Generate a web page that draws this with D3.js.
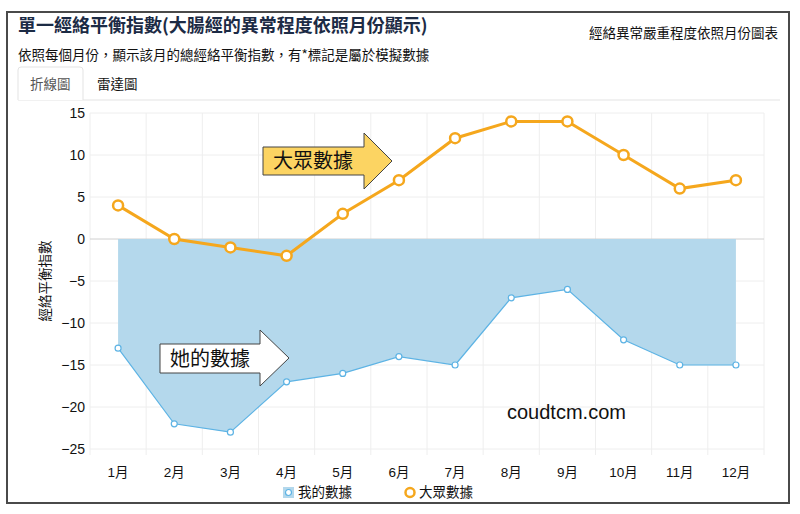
<!DOCTYPE html>
<html lang="zh-Hant">
<head>
<meta charset="UTF-8" />
<title>單一經絡平衡指數</title>
<script src="https://d3js.org/d3.v7.min.js"></script>
<style>
  body { margin: 0; background: #fff; }
  svg { display: block; }
  text { font-family: "Noto Sans CJK TC", "Noto Sans", sans-serif; }
  .num { font-family: "Liberation Sans", Arial, "Noto Sans CJK TC", sans-serif; }
</style>
</head>
<body>
<svg id="svg" width="800" height="514"></svg>
<script>
  // data
  const months = ["1月", "2月", "3月", "4月", "5月", "6月", "7月", "8月", "9月", "10月", "11月", "12月"];
  const myData = [-13, -22, -23, -17, -16, -14, -15, -7, -6, -12, -15, -15];
  const publicData = [4, 0, -1, -2, 3, 7, 12, 14, 14, 10, 6, 7];
  const yTicks = [15, 10, 5, 0, -5, -10, -15, -20, -25];
  const seriesNames = ["我的數據", "大眾數據"];

  const blue = "#5db3e4";
  const blueFill = "#b4d8ec";
  const orange = "#f5a71d";

  const svg = d3.select("svg");

  // outer frame
  svg.append("rect")
    .attr("x", 7).attr("y", 12).attr("width", 782).attr("height", 491)
    .attr("fill", "#fff").attr("stroke", "#4a4a4a").attr("stroke-width", 2);

  // headings
  svg.append("text")
    .attr("x", 18).attr("y", 32)
    .attr("font-size", 18).attr("font-weight", "bold").attr("fill", "#1c2b45")
    .text("單一經絡平衡指數(大腸經的異常程度依照月份顯示)");
  svg.append("text")
    .attr("x", 18).attr("y", 60)
    .attr("font-size", 13.5).attr("fill", "#111")
    .text("依照每個月份，顯示該月的總經絡平衡指數，有*標記是屬於模擬數據");
  svg.append("text")
    .attr("x", 778).attr("y", 38).attr("text-anchor", "end")
    .attr("font-size", 13.5).attr("fill", "#111")
    .text("經絡異常嚴重程度依照月份圖表");

  // tabs
  svg.append("line")
    .attr("x1", 18).attr("x2", 780).attr("y1", 100).attr("y2", 100)
    .attr("stroke", "#e3e3e3");
  svg.append("path")
    .attr("d", "M18,100 V70 Q18,67 21,67 H80 Q83,67 83,70 V100")
    .attr("fill", "#fff").attr("stroke", "#e3e3e3");
  svg.append("text")
    .attr("x", 30).attr("y", 89).attr("font-size", 13.5).attr("fill", "#555")
    .text("折線圖");
  svg.append("text")
    .attr("x", 97).attr("y", 89).attr("font-size", 13.5).attr("fill", "#111")
    .text("雷達圖");

  // scales
  const x = d3.scaleBand().domain(months).range([90, 764]).padding(0);
  const cx = (d) => x(d) + x.bandwidth() / 2;
  const y = d3.scaleLinear().domain([-25, 15]).range([449, 113]);

  const g = svg.append("g");

  // grid
  g.selectAll(".vgrid")
    .data(months.concat(["end"]))
    .enter()
    .append("line")
    .attr("x1", (d, i) => 90 + i * x.bandwidth())
    .attr("x2", (d, i) => 90 + i * x.bandwidth())
    .attr("y1", 113).attr("y2", 455)
    .attr("stroke", "#eeeeee");
  g.selectAll(".hgrid")
    .data(yTicks)
    .enter()
    .append("line")
    .attr("x1", 90).attr("x2", 764)
    .attr("y1", (d) => y(d)).attr("y2", (d) => y(d))
    .attr("stroke", (d) => (d === 0 ? "#d0d0d0" : "#eeeeee"));

  // axes
  const yAxis = g.append("g")
    .attr("transform", "translate(90,0)")
    .call(d3.axisLeft(y).tickValues(yTicks).tickSize(0).tickPadding(5));
  yAxis.select(".domain").remove();
  yAxis.selectAll("text")
    .attr("class", "num").attr("font-size", 14).attr("fill", "#111");

  const xAxis = g.append("g")
    .attr("transform", "translate(0,461)")
    .call(d3.axisBottom(x).tickSize(0).tickPadding(6));
  xAxis.select(".domain").remove();
  xAxis.selectAll("text")
    .attr("class", "num").attr("font-size", 13.5).attr("fill", "#111");

  svg.append("text")
    .attr("transform", "translate(50,281) rotate(-90)")
    .attr("text-anchor", "middle").attr("font-size", 13.5).attr("fill", "#111")
    .text("經絡平衡指數");

  // my data: filled area to zero + thin line
  const area = d3.area()
    .x((d, i) => cx(months[i]))
    .y0(y(0))
    .y1((d) => y(d));
  g.append("path")
    .datum(myData)
    .attr("d", area)
    .attr("fill", blueFill);

  const line = d3.line().x((d, i) => cx(months[i])).y((d) => y(d));
  g.append("path")
    .datum(myData)
    .attr("d", line)
    .attr("fill", "none").attr("stroke", blue).attr("stroke-width", 1.2);
  g.selectAll(".myDot")
    .data(myData)
    .enter()
    .append("circle")
    .attr("cx", (d, i) => cx(months[i]))
    .attr("cy", (d) => y(d))
    .attr("r", 3)
    .attr("fill", "#fff").attr("stroke", blue).attr("stroke-width", 1.2);

  // public data
  g.append("path")
    .datum(publicData)
    .attr("d", line)
    .attr("fill", "none").attr("stroke", orange).attr("stroke-width", 3);
  g.selectAll(".pubDot")
    .data(publicData)
    .enter()
    .append("circle")
    .attr("cx", (d, i) => cx(months[i]))
    .attr("cy", (d) => y(d))
    .attr("r", 5)
    .attr("fill", "#fff").attr("stroke", orange).attr("stroke-width", 2.5);

  // arrow callouts
  function arrow(x0, yTop, yBot, xHead, hTop, hBot, xTip, fill, label) {
    const yMid = (hTop + hBot) / 2;
    svg.append("path")
      .attr("d", `M${x0},${yTop} H${xHead} V${hTop} L${xTip},${yMid} L${xHead},${hBot} V${yBot} H${x0} Z`)
      .attr("fill", fill).attr("stroke", "#444").attr("stroke-width", 1);
    svg.append("text")
      .attr("x", x0 + 10).attr("y", (yTop + yBot) / 2 + 7)
      .attr("font-size", 20).attr("fill", "#111")
      .text(label);
  }
  arrow(263, 147, 175, 364, 133, 189, 392, "#fcd462", "大眾數據");
  arrow(160, 344, 373, 260, 330, 386, 289, "#fff", "她的數據");

  // watermark
  svg.append("text")
    .attr("class", "num")
    .attr("x", 507).attr("y", 419)
    .attr("font-size", 20).attr("fill", "#111")
    .text("coudtcm.com");

  // legend
  const lg = svg.append("g").attr("transform", "translate(0,492)");
  lg.append("rect")
    .attr("x", 283).attr("y", -5).attr("width", 11).attr("height", 11)
    .attr("fill", blueFill);
  lg.append("circle")
    .attr("cx", 288.5).attr("cy", 0.5).attr("r", 3)
    .attr("fill", "#fff").attr("stroke", blue).attr("stroke-width", 1.2);
  lg.append("text")
    .attr("x", 298).attr("y", 5).attr("font-size", 13.5).attr("fill", "#111")
    .text(seriesNames[0]);
  lg.append("circle")
    .attr("cx", 410).attr("cy", 0.5).attr("r", 4.5)
    .attr("fill", "#fff").attr("stroke", orange).attr("stroke-width", 2.5);
  lg.append("text")
    .attr("x", 419).attr("y", 5).attr("font-size", 13.5).attr("fill", "#111")
    .text(seriesNames[1]);
</script>
</body>
</html>
